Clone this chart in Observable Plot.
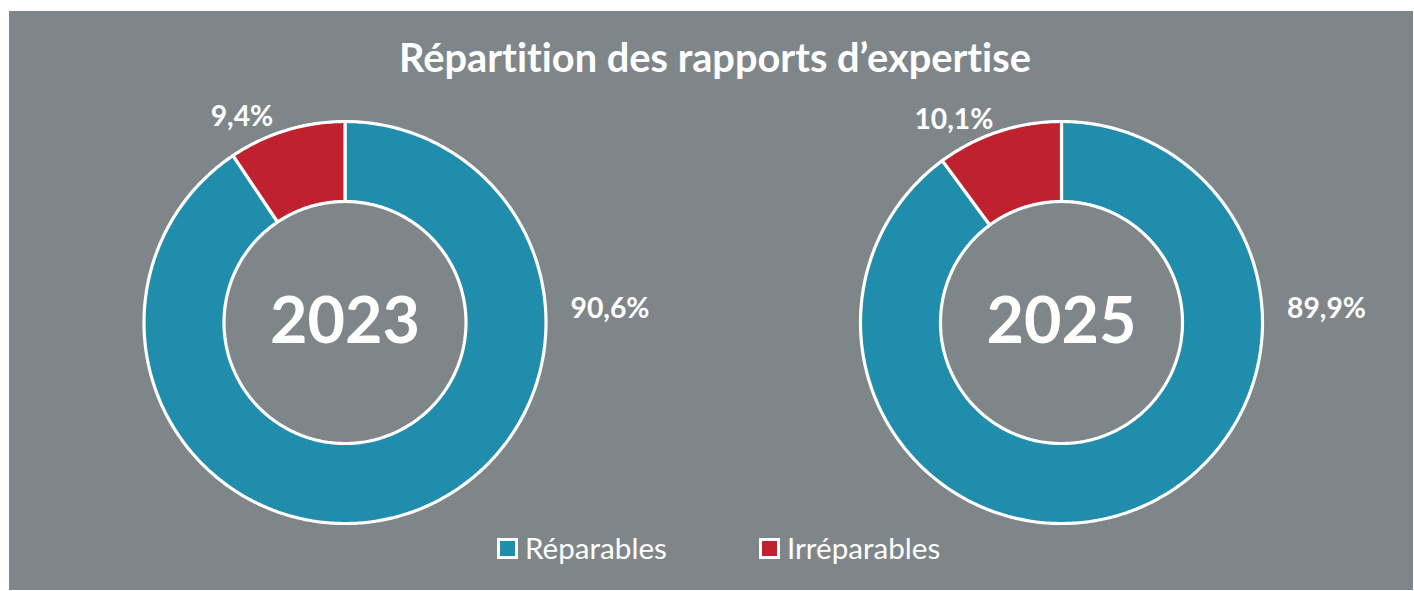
<!DOCTYPE html>
<html><head><meta charset="utf-8">
<script src="https://cdn.jsdelivr.net/npm/d3@7"></script>
<script src="https://cdn.jsdelivr.net/npm/@observablehq/plot@0.6"></script>
<style>
html,body{margin:0;padding:0;background:#fff;}
#frame{position:absolute;left:9px;top:11px;width:1404px;height:579px;background:#7f8689;overflow:hidden;font-family:Lato,"Noto Sans",sans-serif;color:#fff;font-variant-ligatures:none;font-feature-settings:"liga" 0,"clig" 0;}
#title{position:absolute;left:4px;width:100%;text-align:center;font-weight:700;line-height:1;white-space:nowrap;}
#chart{position:absolute;left:0;top:79px;}
#chart svg{font-variant-ligatures:none;}
.leg{position:absolute;display:flex;align-items:center;height:30px;top:522px;line-height:1;white-space:nowrap;}
.sw{width:21px;height:21px;box-sizing:border-box;border:3px solid #fff;margin-right:7px;flex:none;}
</style></head><body><div id="frame"><div id="title"></div><div id="chart"></div></div>
<script>
const title = "Répartition des rapports d’expertise";
const years = ["2023", "2025"];
const categories = ["Réparables", "Irréparables"];
const reparables = [90.6, 89.9];
const irreparables = [9.4, 10.1];
const colors = ["#1f8dab", "#c0212f"];

const fmt = v => d3.format(".1f")(v).replace(".", ",") + "%";
const ctx = document.createElement("canvas").getContext("2d");
function fit(text, weight, target) {
  ctx.font = `${weight} 100px Lato`;
  return 100 * target / ctx.measureText(text).width;
}

// Layout constants (pixels per radius unit = 201)
const PX = 201, W = 1404, H = 440;
const leftCenterX = 335.5, centerY = 232;
const gap = (1061 - 344.5) / PX;
const R0 = 1, R1 = 0.602;

const pts = [], labels = [], yearLabels = [];
years.forEach((yr, i) => {
  const cx = i * gap;
  yearLabels.push({x: cx, y: 0, text: yr});
  const arcs = d3.pie().sort(null)([reparables[i], irreparables[i]]);
  arcs.forEach((a, j) => {
    const id = yr + "-" + j;
    const n = Math.max(2, Math.ceil((a.endAngle - a.startAngle) * 80));
    const poly = [];
    for (let k = 0; k <= n; k++) {
      const t = a.startAngle + (a.endAngle - a.startAngle) * k / n;
      poly.push([cx + R0 * Math.sin(t), R0 * Math.cos(t)]);
    }
    for (let k = n; k >= 0; k--) {
      const t = a.startAngle + (a.endAngle - a.startAngle) * k / n;
      poly.push([cx + R1 * Math.sin(t), R1 * Math.cos(t)]);
    }
    poly.push(poly[0]);
    poly.forEach(([x, y]) => pts.push({id, cat: categories[j], x, y}));
    let ang, r;
    if (j === 0) { ang = Math.PI / 2 - 0.05; r = 1.32; }
    else { ang = (a.startAngle + a.endAngle) / 2 - 0.17; r = 1.143; }
    labels.push({x: cx + r * Math.sin(ang), y: r * Math.cos(ang), text: fmt(a.data)});
  });
});

const labelSize = fit("10,1%", 700, 79);
const yearSize = fit("2023", 700, 150);

const chart = Plot.plot({
  width: W, height: H, margin: 0,
  x: {domain: [-leftCenterX / PX, (W - leftCenterX) / PX], axis: null},
  y: {domain: [-(H - centerY) / PX, centerY / PX], axis: null},
  color: {domain: categories, range: colors},
  style: {background: "transparent", overflow: "visible"},
  marks: [
    Plot.line(pts, {x: "x", y: "y", z: "id", fill: "cat", stroke: "white", strokeWidth: 3.2, curve: "linear", strokeLinejoin: "miter"}),
    Plot.text(yearLabels, {x: "x", y: "y", text: "text", fill: "white", fontWeight: "bold", fontSize: yearSize, fontFamily: "Lato"}),
    Plot.text(labels, {x: "x", y: "y", text: "text", fill: "white", fontWeight: "bold", fontSize: labelSize, fontFamily: "Lato"})
  ]
});
document.getElementById("chart").appendChild(chart);

const t = document.getElementById("title");
const ts = fit(title, 700, 634);
t.textContent = title;
t.style.fontSize = ts + "px";
t.style.top = (61 - 0.887 * ts) + "px";

const frame = document.getElementById("frame");
const legSize = fit("Réparables", 400, 142);
const legLefts = [488, 750];
categories.forEach((c, i) => {
  const d = document.createElement("div");
  d.className = "leg";
  d.style.left = legLefts[i] + "px";
  d.style.fontSize = legSize + "px";
  const s = document.createElement("div");
  s.className = "sw";
  s.style.background = colors[i];
  const sp = document.createElement("span");
  sp.textContent = c;
  d.appendChild(s); d.appendChild(sp);
  frame.appendChild(d);
});
</script></body></html>
